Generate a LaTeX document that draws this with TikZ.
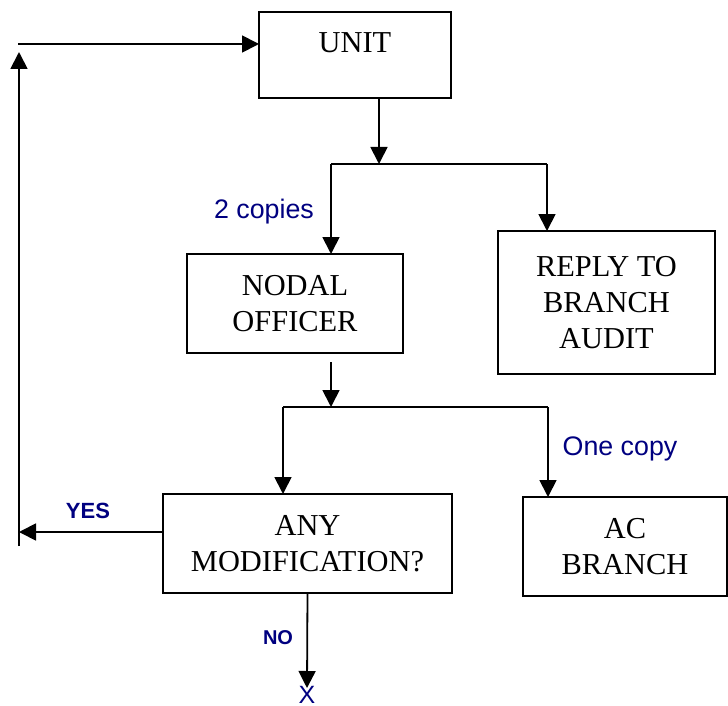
\documentclass[tikz,border=0pt]{standalone}
\usepackage{fontspec}
\setmainfont{Liberation Serif}
\newfontfamily\labelfont{Liberation Sans}
\usetikzlibrary{arrows.meta}
\definecolor{navy}{RGB}{0,0,128}
\begin{document}
\begin{tikzpicture}[x=0.5pt,y=-0.5pt,
  box/.style={draw, line width=0.9pt, inner sep=0pt, outer sep=0pt, align=center,
    font=\fontsize{15.2}{17.8}\selectfont},
  boxtext/.style={inner sep=0pt, font=\fontsize{15.2}{17.8}\selectfont},
  arr/.style={line width=0.9pt, -{Triangle[length=8.5pt,width=8.5pt]}},
  ln/.style={line width=0.9pt},
  lbl/.style={text=navy, inner sep=0pt, font=\labelfont\fontsize{13.4}{16}\selectfont},
  blbl/.style={text=navy, inner sep=0pt, font=\labelfont\bfseries\fontsize{11}{13}\selectfont},
  nlbl/.style={text=navy, inner sep=0pt, font=\labelfont\bfseries\fontsize{10}{12}\selectfont},
  xlbl/.style={text=navy, inner sep=0pt, font=\labelfont\fontsize{12.5}{15}\selectfont}]
\useasboundingbox (0,0) rectangle (728,706);

% boxes
\node[box, minimum width=96pt, minimum height=43pt] (unit) at (355,55) {};
\node[boxtext] (unittext) at (355,43) {UNIT};
\node[box, minimum width=108pt, minimum height=49.5pt] (nodal) at (295,303.5) {NODAL\\OFFICER};
\node[box, minimum width=108.5pt, minimum height=71.5pt] (reply) at (606.5,302.5) {REPLY TO\\BRANCH\\AUDIT};
\node[box, minimum width=144.5pt, minimum height=49.5pt] (any) at (307.5,543.5) {ANY\\MODIFICATION?};
\node[box, minimum width=102pt, minimum height=49.5pt] (ac) at (625,546.5) {AC\\BRANCH};

% labels
\node[lbl, anchor=base] (copies2) at (264,218) {2 copies};
\node[lbl, anchor=base] (onecopy) at (620,455) {One copy};
\node[blbl, anchor=base] (yes) at (88,518) {YES};
\node[nlbl, anchor=base] (no) at (278,644) {NO};
\node[xlbl] (xn) at (307,695) {X};

% junction points
\coordinate (j1) at (379,164);
\coordinate (j1l) at (331,164);
\coordinate (j1r) at (547,164);
\coordinate (j2) at (331,407);
\coordinate (j2l) at (283,407);
\coordinate (j2r) at (548,407);
\coordinate (ly) at (19,532);
\coordinate (lb) at (19,546);
\coordinate (lt) at (19,52);
\coordinate (lh) at (18,44);

% connectors
\draw[arr] (unit.south -| j1) -- (j1);
\draw[ln] (j1l) -- (j1r);
\draw[arr] (j1l) -- (j1l |- nodal.north);
\draw[arr] (j1r) -- (j1r |- reply.north);

\draw[arr, shorten <=4.5pt] (nodal.south -| j2) -- (j2);
\draw[ln] (j2l) -- (j2r);
\draw[arr] (j2l) -- (j2l |- any.north);
\draw[arr] (j2r) -- (j2r |- ac.north);

\draw[arr] (any.west |- ly) -- (ly);
\draw[arr] (lb) -- (lt);
\draw[arr] (lh) -- (lh -| unit.west);

\draw[arr] (any.south) -- ([yshift=-1pt]xn.north);
\end{tikzpicture}
\end{document}
